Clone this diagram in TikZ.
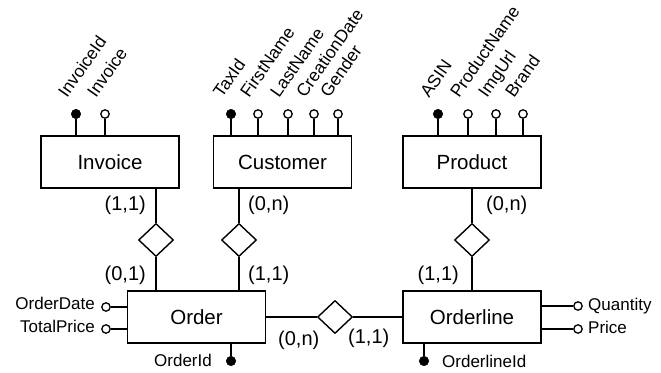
\documentclass[tikz,border=0pt]{standalone}
\usepackage{fontspec}
\setmainfont{Liberation Sans}
\usetikzlibrary{shapes.geometric}

\begin{document}
\begin{tikzpicture}[x=1pt,y=-1pt,
  entity/.style={draw, line width=1.4pt, minimum width=138pt, minimum height=52pt,
    inner sep=0pt, font=\fontsize{20.5}{24}\selectfont},
  rel/.style={draw, diamond, line width=1.4pt, minimum width=35pt, minimum height=33pt,
    inner sep=0pt},
  card/.style={font=\fontsize{20}{24}\selectfont, inner sep=0pt},
  keyattr/.style={circle, fill=black, draw, line width=0.6pt, minimum size=9.4pt, inner sep=0pt},
  attr/.style={circle, fill=white, draw, line width=1.3pt, minimum size=8.4pt, inner sep=0pt},
  attrlabel/.style={font=\fontsize{17}{20}\selectfont, inner sep=0pt},
  toplabel/.style={font=\fontsize{17.5}{20}\selectfont, inner sep=0pt, rotate=55,
    anchor=base west},
  link/.style={line width=1.4pt},
  attrlink/.style={line width=1.3pt}
]
\useasboundingbox (0,0) rectangle (661,372);

% entities
\node[entity] (invoice)   at (110,162)   {Invoice};
\node[entity] (customer)  at (282.5,162) {Customer};
\node[entity] (product)   at (472,162)   {Product};
\node[entity] (order)     at (196.5,317) {Order};
\node[entity] (orderline) at (472,317)   {Orderline};

% relationships
\node[rel] (rinv)  at (156,240) {};
\node[rel] (rcust) at (239,240) {};
\node[rel] (rprod) at (472,240) {};
\node[rel] (rline) at (335,317) {};

\draw[link] (rinv.north) -- (rinv.north |- invoice.south);
\draw[link] (rinv.south) -- (rinv.south |- order.north);
\draw[link] (rcust.north) -- (rcust.north |- customer.south);
\draw[link] (rcust.south) -- (rcust.south |- order.north);
\draw[link] (rprod.north) -- (rprod.north |- product.south);
\draw[link] (rprod.south) -- (rprod.south |- orderline.north);
\draw[link] (order.east) -- (rline.west);
\draw[link] (rline.east) -- (orderline.west);

% cardinalities
\node[card, anchor=east] (c1) at (146,205) {(1,1)};
\node[card, anchor=east] (c2) at (146,275) {(0,1)};
\node[card, anchor=west] (c3) at (248,205) {(0,n)};
\node[card, anchor=west] (c4) at (248,275) {(1,1)};
\node[card, anchor=west] (c5) at (486,205) {(0,n)};
\node[card, anchor=east] (c6) at (459,275) {(1,1)};
\node[card, anchor=west] (c7) at (278,340) {(0,n)};
\node[card, anchor=west] (c8) at (348,338) {(1,1)};

% attributes above the entities
\foreach \x/\nm/\lab/\kind/\ent in {
    76/iid/InvoiceId/keyattr/invoice, 105/inv/Invoice/attr/invoice,
    231/tax/TaxId/keyattr/customer, 258/fn/FirstName/attr/customer,
    288/ln/LastName/attr/customer, 314/cd/CreationDate/attr/customer,
    338/gen/Gender/attr/customer,
    438/asin/ASIN/keyattr/product, 468/pn/ProductName/attr/product,
    496/img/ImgUrl/attr/product, 523/br/Brand/attr/product} {
  \node[\kind] (a-\nm) at (\x,114) {};
  \draw[attrlink] (a-\nm) -- (a-\nm |- \ent.north);
  \node[toplabel] (t-\nm) at ([shift={(-9,-15)}]a-\nm.center) {\lab};
}

% attributes of Order
\node[attr] (a-od) at (106,307) {};
\node[attr] (a-tp) at (106,329) {};
\node[keyattr] (a-oid) at (231,361) {};
\draw[attrlink] (a-od) -- (a-od -| order.west);
\draw[attrlink] (a-tp) -- (a-tp -| order.west);
\draw[attrlink] (a-oid) -- (a-oid |- order.south);
\node[attrlabel, anchor=base east] (t-od) at (95,309) {OrderDate};
\node[attrlabel, anchor=base east] (t-tp) at (95,332) {TotalPrice};
\node[attrlabel, anchor=base east] (t-oid) at (212,366) {OrderId};

% attributes of Orderline
\node[attr] (a-qty) at (578,306) {};
\node[attr] (a-pr) at (578,329) {};
\node[keyattr] (a-olid) at (424,361) {};
\draw[attrlink] (a-qty) -- (a-qty -| orderline.east);
\draw[attrlink] (a-pr) -- (a-pr -| orderline.east);
\draw[attrlink] (a-olid) -- (a-olid |- orderline.south);
\node[attrlabel, anchor=base west] (t-qty) at (588,310) {Quantity};
\node[attrlabel, anchor=base west] (t-pr) at (588,333) {Price};
\node[attrlabel, anchor=base west] (t-olid) at (442,367) {OrderlineId};
\end{tikzpicture}
\end{document}
